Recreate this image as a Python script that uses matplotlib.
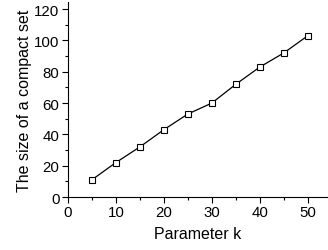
import matplotlib
matplotlib.use('Agg')
import matplotlib.pyplot as plt
from matplotlib.ticker import MultipleLocator

# 数据
k_values = [5, 10, 15, 20, 25, 30, 35, 40, 45, 50]
set_sizes = [11, 22, 32, 43, 53, 60, 72, 83, 92, 103]

plt.rcParams['font.family'] = ['Liberation Sans', 'DejaVu Sans']

fig = plt.figure(figsize=(3.28, 2.51), dpi=100)
ax = fig.add_axes([0.207, 0.211, 0.79, 0.777])

ax.plot(k_values, set_sizes, color='black', linewidth=0.9,
        marker='s', markersize=4.5, markerfacecolor='white',
        markeredgecolor='black', markeredgewidth=0.8)

ax.set_xlim(0, 54)
ax.set_ylim(0, 124.5)
ax.xaxis.set_major_locator(MultipleLocator(10))
ax.xaxis.set_minor_locator(MultipleLocator(5))
ax.yaxis.set_major_locator(MultipleLocator(20))
ax.yaxis.set_minor_locator(MultipleLocator(10))

ax.spines['top'].set_visible(False)
ax.spines['right'].set_visible(False)
ax.tick_params(which='major', direction='out', length=4, width=0.8, labelsize=10.8, pad=2)
ax.tick_params(which='minor', direction='out', length=2.5, width=0.8)

ax.set_xlabel('Parameter k', fontsize=11.5, labelpad=5)
ax.set_ylabel('The size of a compact set', fontsize=11.5, labelpad=1.5)

plt.savefig('out.png', dpi=100, facecolor='white')
plt.close()
